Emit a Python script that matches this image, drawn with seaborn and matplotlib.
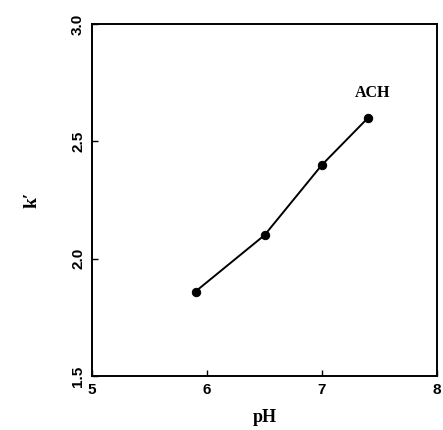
# k' vs pH for ACH
import numpy as np
import pandas as pd
import seaborn as sns
import matplotlib
matplotlib.use("Agg")
import matplotlib.pyplot as plt

# -------------------------------
# Data
# -------------------------------
ph = [5.9, 6.5, 7.0, 7.4]
k_prime = [1.86, 2.10, 2.40, 2.60]
series_label = "ACH"

x_ticks = [5, 6, 7, 8]
y_ticks = [1.5, 2.0, 2.5, 3.0]

df = pd.DataFrame({"pH": ph, "k": k_prime})

# -------------------------------
# Style
# -------------------------------
sns.set_style("ticks")
plt.rcParams['font.family'] = ['Liberation Serif', 'DejaVu Serif']
plt.rcParams['font.weight'] = 'bold'
plt.rcParams['text.color'] = 'black'
plt.rcParams['axes.labelcolor'] = 'black'
plt.rcParams['xtick.color'] = 'black'
plt.rcParams['ytick.color'] = 'black'

fig = plt.figure(figsize=(4.43, 4.30), dpi=100)
ax = fig.add_axes([0.2077, 0.1256, 0.7788, 0.8186])

sns.lineplot(data=df, x="pH", y="k", ax=ax, color="black", linewidth=1.4,
             marker="o", markersize=6, markeredgecolor="black", legend=False)

ax.annotate(series_label, xy=(ph[-1], k_prime[-1]), xytext=(3, 18),
            textcoords="offset points", ha="center", va="center",
            fontsize=11.5, fontweight="bold", color="black")

ax.set_xlim(5, 8)
ax.set_ylim(1.5, 3.0)
ax.set_xticks(x_ticks)
ax.set_yticks(y_ticks)
ax.set_xticklabels([str(t) for t in x_ticks])
ax.set_yticklabels([f"{t:.1f}" for t in y_ticks])

ax.tick_params(direction="in", length=4, width=1, pad=5)
for lab in ax.get_yticklabels():
    lab.set_rotation(90)
    lab.set_va("center")
for lab in ax.get_xticklabels() + ax.get_yticklabels():
    lab.set_family(['Liberation Sans', 'DejaVu Sans'])
    lab.set_fontweight("bold")
    lab.set_fontsize(11)
    lab.set_color("black")

for sp in ax.spines.values():
    sp.set_linewidth(1.4)
    sp.set_color("black")

ax.set_xlabel("pH", fontsize=13, fontweight="bold", labelpad=9)
ax.set_ylabel("k′", fontsize=14, fontweight="bold", labelpad=22)

fig.savefig("out.png", dpi=100)
